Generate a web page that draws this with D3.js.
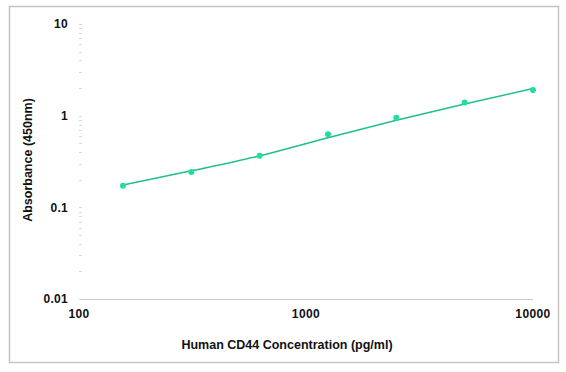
<!DOCTYPE html>
<html>
<head>
<meta charset="utf-8">
<script src="https://cdn.jsdelivr.net/npm/d3@7/dist/d3.min.js"></script>
<style>
  body { margin: 0; background: #fff; }
  text { font-family: "Liberation Sans", Arial, sans-serif; font-weight: bold; fill: #111; }
</style>
</head>
<body>
<svg id="chart" width="566" height="372"></svg>
<script>
// standard concentrations (pg/ml) and measured absorbance
var concentrations = [156.25, 312.5, 625, 1250, 2500, 5000, 10000];
var absorbance = [0.172, 0.243, 0.366, 0.627, 0.95, 1.39, 1.91];

// fitted curve
var fitConc = [156.25, 312.5, 625, 1250, 2500, 5000, 10000];
var fitAbs = [0.175, 0.250, 0.365, 0.575, 0.89, 1.34, 1.98];

var xTicks = [100, 1000, 10000];
var yTicks = [0.01, 0.1, 1, 10];

var svg = d3.select("#chart"),
    width = +svg.attr("width"),
    height = +svg.attr("height");

// outer frame
svg.append("rect")
    .attr("x", 9.5).attr("y", 6.5)
    .attr("width", 549).attr("height", 356)
    .attr("fill", "#fff")
    .attr("stroke", "#c4c4c4")
    .attr("stroke-width", 1.5);

var x = d3.scaleLog().domain([100, 10000]).range([79, 533]);
var y = d3.scaleLog().domain([0.01, 10]).range([299, 24]);

// y minor ticks (faint)
var minor = [];
[0.01, 0.1, 1].forEach(function(d) {
    for (var k = 1; k < 10; k++) minor.push(d * k);
});
minor.push(10);

svg.append("g")
    .selectAll("line")
    .data(minor)
    .enter().append("line")
    .attr("x1", 79).attr("x2", 82)
    .attr("y1", function(d) { return Math.round(y(d)) + 0.5; })
    .attr("y2", function(d) { return Math.round(y(d)) + 0.5; })
    .attr("stroke", "#d8d8d8")
    .attr("stroke-width", 1);

// x axis line
svg.append("line")
    .attr("x1", 80).attr("x2", 533)
    .attr("y1", 299.5).attr("y2", 299.5)
    .attr("stroke", "#c8c8c8")
    .attr("stroke-width", 1);

// y tick labels
svg.append("g")
    .selectAll("text")
    .data(yTicks)
    .enter().append("text")
    .attr("x", 68)
    .attr("y", function(d) { return y(d); })
    .attr("dy", "0.35em")
    .attr("text-anchor", "end")
    .attr("font-size", "12px")
    .attr("letter-spacing", "0.3px")
    .text(function(d) { return d; });

// x tick labels
svg.append("g")
    .selectAll("text")
    .data(xTicks)
    .enter().append("text")
    .attr("x", function(d) { return x(d); })
    .attr("y", 314)
    .attr("dy", "0.35em")
    .attr("text-anchor", "middle")
    .attr("font-size", "12px")
    .attr("letter-spacing", "0.4px")
    .text(function(d) { return d; });

// axis titles
svg.append("text")
    .attr("x", 287)
    .attr("y", 345)
    .attr("dy", "0.35em")
    .attr("text-anchor", "middle")
    .attr("font-size", "12.5px")
    .text("Human CD44 Concentration (pg/ml)");

svg.append("text")
    .attr("transform", "translate(28,160) rotate(-90)")
    .attr("dy", "0.35em")
    .attr("text-anchor", "middle")
    .attr("font-size", "12.5px")
    .text("Absorbance (450nm)");

// fitted line
var fit = fitConc.map(function(c, i) { return [c, fitAbs[i]]; });
var line = d3.line()
    .x(function(d) { return x(d[0]); })
    .y(function(d) { return y(d[1]); })
    .curve(d3.curveMonotoneX);

svg.append("path")
    .datum(fit)
    .attr("d", line)
    .attr("fill", "none")
    .attr("stroke", "#1fbf8e")
    .attr("stroke-width", 1.5);

// data points
svg.append("g")
    .selectAll("circle")
    .data(concentrations)
    .enter().append("circle")
    .attr("cx", function(d) { return x(d); })
    .attr("cy", function(d, i) { return y(absorbance[i]); })
    .attr("r", 3)
    .attr("fill", "#22dd9c");
</script>
</body>
</html>
